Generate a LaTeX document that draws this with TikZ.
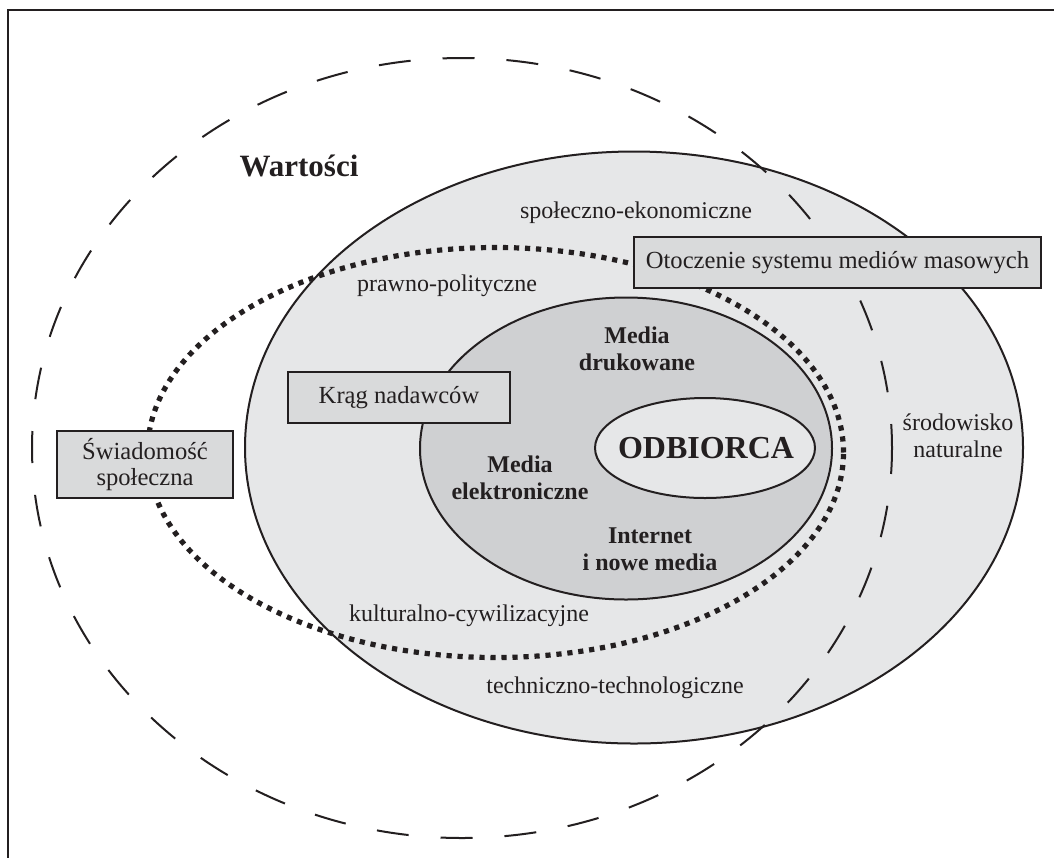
\documentclass[tikz,border=0pt]{standalone}
\usepackage{fontspec}
\setmainfont{Liberation Serif}
\usetikzlibrary{shapes.geometric}
\definecolor{ink}{HTML}{231F20}
\definecolor{outerfill}{HTML}{E6E7E8}
\definecolor{innerfill}{HTML}{CFD0D2}
\definecolor{boxfill}{HTML}{D9DADB}
\tikzset{
  lbl/.style={text=ink, font=\fontsize{12}{13.5}\selectfont, align=center, inner sep=0pt},
  blbl/.style={text=ink, font=\fontsize{12}{13.5}\selectfont\bfseries, align=center, inner sep=0pt},
  boxnode/.style={draw=ink, line width=0.7pt, fill=boxfill, text=ink,
     font=\fontsize{12.3}{13}\selectfont, align=center, inner sep=0pt},
  solidell/.style={draw=ink, line width=1pt},
  dashell/.style={draw=ink, line width=1pt, dash pattern=on 16pt off 16pt},
  dotell/.style={draw=ink, line width=2.6pt, dash pattern=on 2.6pt off 2.9pt},
  frameline/.style={draw=ink, line width=1pt}
}
\begin{document}
\begin{tikzpicture}[x=0.5pt,y=-0.5pt]
\useasboundingbox (0,0) rectangle (1054,858);
% frame (top and left only)
\coordinate (fr1) at (1054,9.5);
\coordinate (fr2) at (8,9.5);
\coordinate (fr3) at (8,858);
\draw[frameline] (fr1) -- (fr2) -- (fr3);
% ellipses
\coordinate (cOuter) at (634,447.5);
\coordinate (cInner) at (626,448.5);
\coordinate (cOdb) at (705,448);
\coordinate (cDash) at (462,448);
\coordinate (cDot) at (495.5,452.5);
\fill[outerfill] (cOuter) ellipse [x radius=194.5pt, y radius=148pt];
\draw[solidell] (cOuter) ellipse [x radius=194.5pt, y radius=148pt];
\draw[solidell, fill=innerfill] (cInner) ellipse [x radius=103pt, y radius=75.5pt];
\draw[solidell, fill=outerfill] (cOdb) ellipse [x radius=55pt, y radius=25pt];
\draw[dashell, dash phase=4pt] (cDash) ellipse [x radius=215pt, y radius=195pt];
\draw[dotell] (cDot) ellipse [x radius=174pt, y radius=102.5pt];
% texts
\node[text=ink, font=\fontsize{15.5}{17}\selectfont\bfseries, inner sep=0pt] (wart) at (299,166) {Wartości};
\node[lbl] (spol) at (636,213) {społeczno-ekonomiczne};
\node[lbl] (prawno) at (447,286) {prawno-polityczne};
\node[blbl] (druk) at (637,349) {Media\\drukowane};
\node[text=ink, font=\fontsize{16}{17}\selectfont\bfseries, inner sep=0pt] (odb) at (706,448) {ODBIORCA};
\node[blbl] (elek) at (520,478) {Media\\elektroniczne};
\node[blbl] (inet) at (650,549) {Internet\\i nowe media};
\node[lbl] (sroda) at (958,436) {środowisko\\naturalne};
\node[lbl] (kult) at (469,616) {kulturalno-cywilizacyjne};
\node[lbl] (tech) at (615,688) {techniczno-technologiczne};
% boxes
\node[boxnode, minimum width=203.5pt, minimum height=25.5pt] (otocz) at (837.5,262.5) {Otoczenie systemu mediów masowych};
\node[boxnode, minimum width=111pt, minimum height=25.5pt] (krag) at (399,397.5) {Krąg nadawców};
\node[boxnode, minimum width=88pt, minimum height=33.5pt] (swiad) at (145,464.5) {Świadomość\\społeczna};
\end{tikzpicture}
\end{document}
